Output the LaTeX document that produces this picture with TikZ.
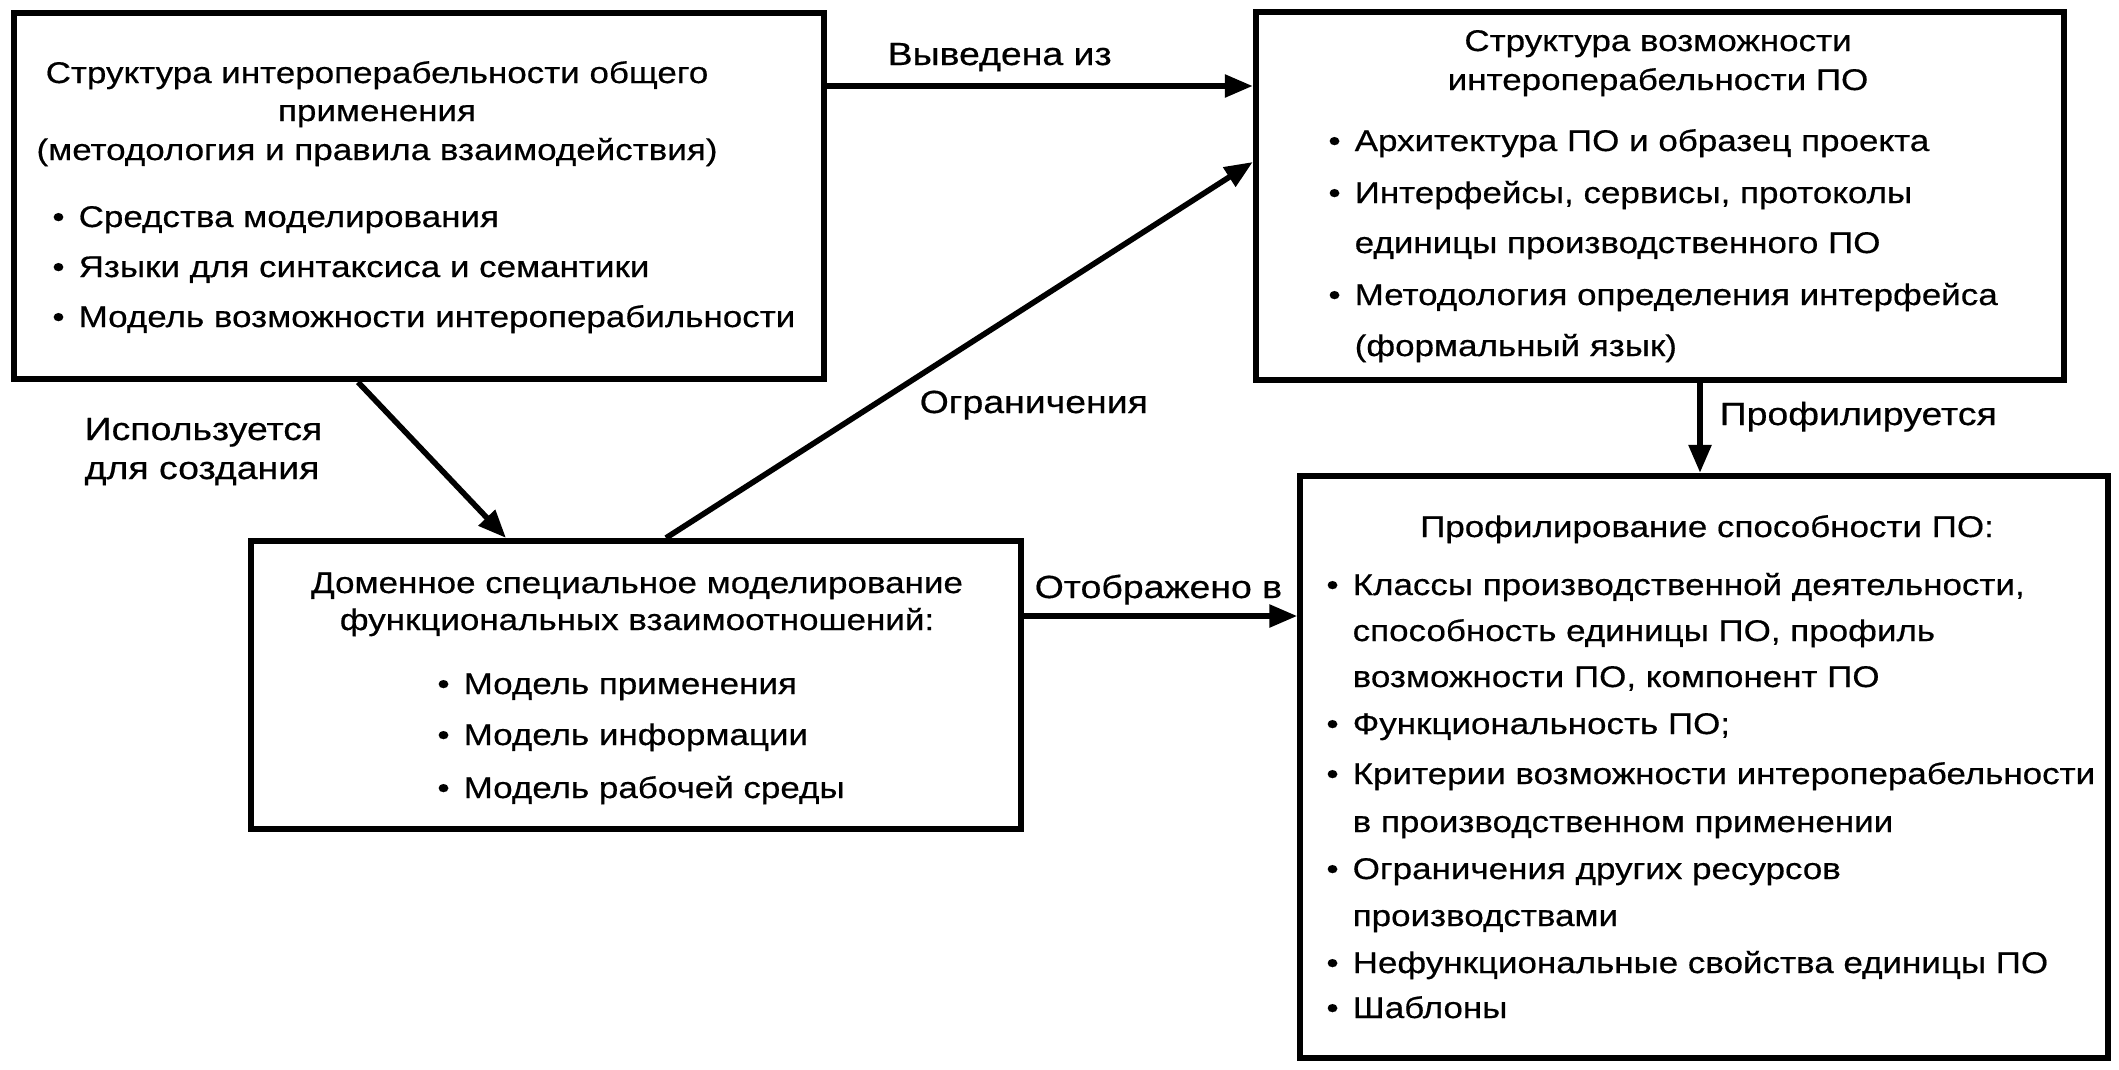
\documentclass[tikz,border=0pt]{standalone}
\usepackage{fontspec}
\setmainfont{Liberation Sans}[FakeStretch=1.17, FakeBold=0.5]
\usetikzlibrary{arrows.meta}

\newcommand\bul{\llap{\textbullet\hspace{4pt}}}

\tikzset{
    frame/.style={draw, line width=1.7pt, inner sep=0pt},
    txt/.style={font=\fontsize{8.5}{10.5}\selectfont, inner sep=0pt},
    lbl/.style={font=\fontsize{9.1}{11}\selectfont, inner sep=0pt, anchor=base west},
    arr/.style={line width=1.6pt, -{Triangle[length=0.28cm, width=0.22cm]}}
}

\begin{document}
\begin{tikzpicture}[x=0.01cm, y=-0.01cm]
    \useasboundingbox (0,0) rectangle (2119,1069);

    % the four boxes
    \node[frame, minimum width=8.10cm, minimum height=3.66cm] (general) at (419,196) {};
    \node[frame, minimum width=8.08cm, minimum height=3.67cm] (capab) at (1660,196) {};
    \node[frame, minimum width=7.69cm, minimum height=2.88cm] (domain) at (636,685) {};
    \node[frame, minimum width=8.07cm, minimum height=5.82cm] (profile) at (1704,767) {};

    % texts of the general box
    \foreach \y/\ln [count=\i] in {83/Структура интероперабельности общего,
        121/применения, 160/(методология и правила взаимодействия)}
        \node[txt, anchor=base] (general-h\i) at (377,\y) {\ln};
    \foreach \y/\ln [count=\i] in {227/\bul Средства моделирования,
        277/\bul Языки для синтаксиса и семантики,
        327/\bul Модель возможности интероперабильности}
        \node[txt, anchor=base west] (general-\i) at (78,\y) {\ln};

    % texts of the capability box
    \foreach \y/\ln [count=\i] in {51/Структура возможности, 90/интероперабельности ПО}
        \node[txt, anchor=base] (capab-h\i) at (1658,\y) {\ln};
    \foreach \y/\ln [count=\i] in {151/\bul Архитектура ПО и образец проекта,
        203/{\bul Интерфейсы, сервисы, протоколы},
        253/единицы производственного ПО,
        305/\bul Методология определения интерфейса,
        356/(формальный язык)}
        \node[txt, anchor=base west] (capab-\i) at (1354,\y) {\ln};

    % texts of the domain box
    \foreach \y/\ln [count=\i] in {593/Доменное специальное моделирование,
        630/функциональных взаимоотношений:}
        \node[txt, anchor=base] (domain-h\i) at (637,\y) {\ln};
    \foreach \y/\ln [count=\i] in {694/\bul Модель применения,
        745/\bul Модель информации, 798/\bul Модель рабочей среды}
        \node[txt, anchor=base west] (domain-\i) at (463,\y) {\ln};

    % texts of the profile box
    \node[txt, anchor=base] (profile-h) at (1707,537) {Профилирование способности ПО:};
    \foreach \y/\ln [count=\i] in {595/{\bul Классы производственной деятельности,},
        641/{способность единицы ПО, профиль},
        687/{возможности ПО, компонент ПО},
        734/\bul Функциональность ПО;,
        784/\bul Критерии возможности интероперабельности,
        832/в производственном применении,
        879/\bul Ограничения других ресурсов,
        926/производствами,
        973/\bul Нефункциональные свойства единицы ПО,
        1018/\bul Шаблоны}
        \node[txt, anchor=base west] (profile-\i) at (1352,\y) {\ln};

    % connectors
    \draw[arr] (general.east |- 0,86) -- (capab.west |- 0,86);
    \draw[arr] (domain.north -| 666,0) -- (capab.west |- 0,162);
    \draw[arr] (general.south -| 358,0) -- (domain.north -| 506,0);
    \draw[arr] (domain.east |- 0,616) -- (profile.west |- 0,616);
    \draw[arr] (capab.south -| 1700,0) -- (profile.north -| 1700,0);

    % labels of the connectors
    \node[lbl] (derived) at (887,65) {Выведена из};
    \node[lbl] (limits) at (919,413) {Ограничения};
    \node[lbl] (used-1) at (84,440) {Используется};
    \node[lbl] (used-2) at (84,479) {для создания};
    \node[lbl] (mapped) at (1034,598) {Отображено в};
    \node[lbl] (profiled) at (1719,425) {Профилируется};
\end{tikzpicture}
\end{document}
